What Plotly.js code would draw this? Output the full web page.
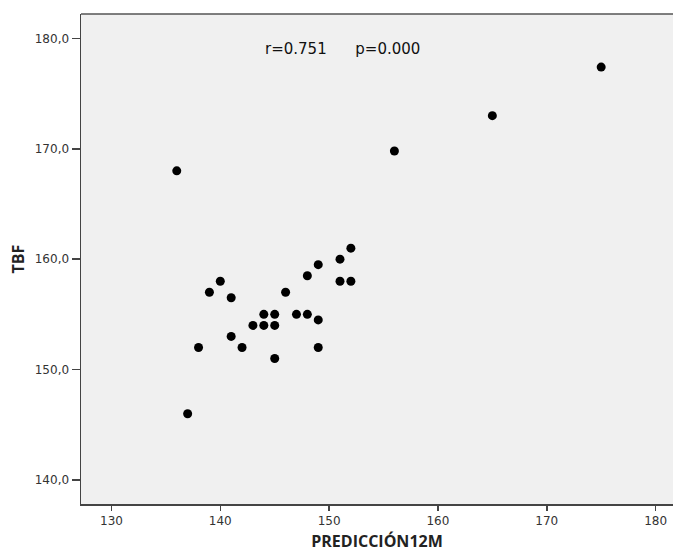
<!DOCTYPE html>
<html>
<head>
<meta charset="utf-8">
<script src="https://cdn.plot.ly/plotly-3.0.1.min.js"></script>
<style>
html,body{margin:0;padding:0;background:#fff;}
#chart{width:673px;height:552px;}
</style>
</head>
<body>
<div id="chart"></div>
<script>
// Data
const prediccion12M = [136, 137, 138, 139, 140, 141, 141, 142, 143, 144, 144, 145, 145, 145, 146, 147, 148, 148, 149, 149, 149, 151, 151, 152, 152, 156, 165, 175];
const tbf = [168, 146, 152, 157, 158, 156.5, 153, 152, 154, 155, 154, 155, 154, 151, 157, 155, 155, 158.5, 159.5, 154.5, 152, 160, 158, 161, 158, 169.8, 173, 177.4];
const xTicks = [130, 140, 150, 160, 170, 180];
const yTicks = [140, 150, 160, 170, 180];
const statsLabel = "r=0.751      p=0.000";

const trace = {
  x: prediccion12M,
  y: tbf,
  type: 'scatter',
  mode: 'markers',
  marker: {color: '#000000', size: 9},
  hoverinfo: 'x+y'
};

const layout = {
  width: 673,
  height: 552,
  margin: {l: 81, r: 0, t: 14, b: 48, pad: 0},
  paper_bgcolor: '#ffffff',
  plot_bgcolor: '#f0f0f0',
  separators: ',.',
  showlegend: false,
  font: {family: 'DejaVu Sans, sans-serif', size: 12, color: '#333333'},
  xaxis: {
    range: [127.2, 181.6],
    tickvals: xTicks,
    ticks: 'outside',
    ticklen: 5,
    tickcolor: '#444',
    tickwidth: 1.5,
    showgrid: false,
    zeroline: false,
    showline: true,
    linecolor: '#444',
    linewidth: 1.5,
    mirror: false,
    tickfont: {family: 'DejaVu Sans, sans-serif', size: 12, color: '#333'},
    title: {text: 'PREDICCIÓN12M', font: {family: 'Open Sans, sans-serif', size: 16, color: '#222', weight: 'bold'}, standoff: 11}
  },
  yaxis: {
    range: [137.82, 182.21],
    tickvals: yTicks,
    tickformat: '.1f',
    ticks: 'outside',
    ticklen: 8,
    tickcolor: '#444',
    tickwidth: 1.5,
    showgrid: false,
    zeroline: false,
    showline: true,
    linecolor: '#444',
    linewidth: 1.5,
    tickfont: {family: 'DejaVu Sans, sans-serif', size: 12, color: '#333'},
    title: {text: 'TBF', font: {family: 'Open Sans, sans-serif', size: 16, color: '#222', weight: 'bold'}, standoff: 6}
  },
  shapes: [
    {type: 'line', xref: 'paper', yref: 'paper', x0: 0, x1: 1, y0: 1, y1: 1, line: {color: '#555', width: 1.5}}
  ],
  annotations: [
    {x: 151.2, y: 179.0, xref: 'x', yref: 'y', text: statsLabel, showarrow: false,
     font: {family: 'DejaVu Sans, sans-serif', size: 15, color: '#111'}}
  ]
};

Plotly.newPlot('chart', [trace], layout, {displayModeBar: false, staticPlot: true});
</script>
</body>
</html>
